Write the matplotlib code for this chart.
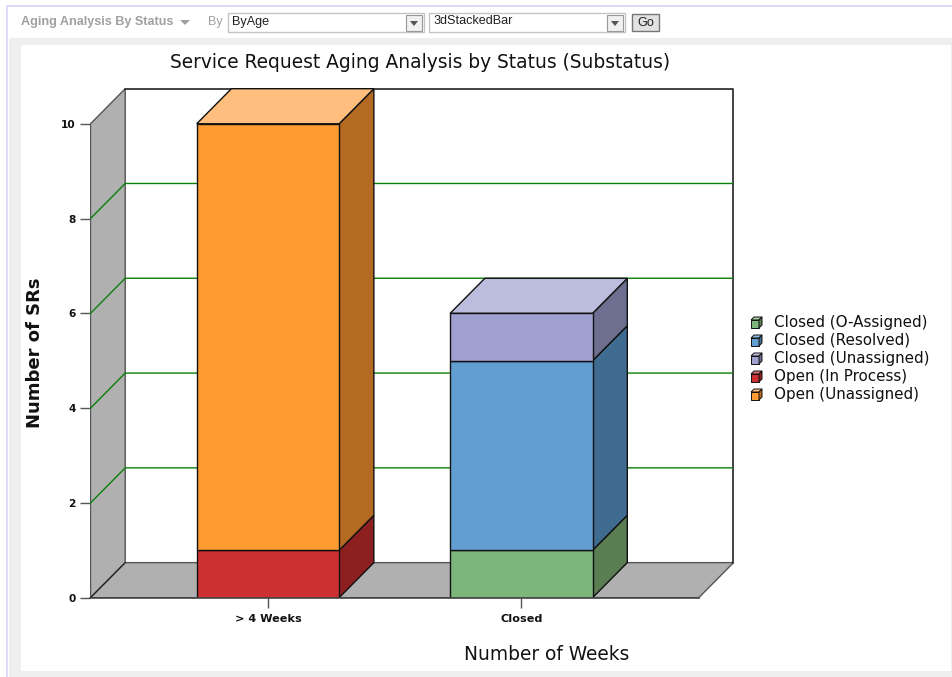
import numpy as np
import matplotlib
matplotlib.use('Agg')
from matplotlib import pyplot as plt
from matplotlib.patches import Polygon, Rectangle

W, H = 953, 677

categories = ['> 4 Weeks', 'Closed']
series = ['Closed (O-Assigned)', 'Closed (Resolved)', 'Closed (Unassigned)', 'Open (In Process)', 'Open (Unassigned)']
values = {
    'Closed (O-Assigned)': [0, 1],
    'Closed (Resolved)': [0, 4],
    'Closed (Unassigned)': [0, 1],
    'Open (In Process)': [1, 0],
    'Open (Unassigned)': [9, 0],
}
front_colors = ['#7db67b', '#629ed1', '#9f9fd0', '#cd3030', '#ff9b30']
top_colors = ['#a5cda3', '#92bce0', '#bcbcdf', '#dd7070', '#ffbe7e']
side_colors = ['#5a7d52', '#3f6b90', '#6e6e90', '#8c2020', '#b56a22']
y_ticks = [0, 2, 4, 6, 8, 10]

# depth of the fake 3d in data units
dx = 0.137
dy = 0.74
bar_half = 0.281
wall = '#b0b0b0'
edge = '#111111'

fig = plt.figure(figsize=(W / 100, H / 100), dpi=100, facecolor='white')

def px_rect(x0, y0, x1, y1, **kw):
    fig.add_artist(Rectangle((x0 / W, 1 - y1 / H), (x1 - x0) / W, (y1 - y0) / H,
                             transform=fig.transFigure, **kw))

# page frame and speckle-ish band
px_rect(6, 5, W, H, facecolor='#dcdcf8', edgecolor='none')
px_rect(8, 7, W, H, facecolor='white', edgecolor='none')
px_rect(9, 38, 953, 677, facecolor='#efefef', edgecolor='none')
px_rect(21, 45, 951, 671, facecolor='white', edgecolor='none')

# toolbar
fig.text(21 / W, 1 - 22.5 / H, 'Aging Analysis By Status', fontsize=9.1, color='#a0a0a0',
         fontweight='bold', family='Liberation Sans', va='center')
fig.text(208 / W, 1 - 22.5 / H, 'By', fontsize=9.1, color='#a0a0a0', family='Liberation Sans', va='center')
fig.add_artist(Polygon([[180 / W, 1 - 20 / H], [190 / W, 1 - 20 / H], [185 / W, 1 - 25 / H]],
                       transform=fig.transFigure, facecolor='#a0a0a0', edgecolor='none'))
for x0, x1, label in [(228, 424, 'ByAge'), (429, 625, '3dStackedBar')]:
    px_rect(x0, 13, x1, 32, facecolor='white', edgecolor='#c4c4c4', lw=1)
    px_rect(x1 - 18, 15, x1 - 2, 31, facecolor='#f0f0f0', edgecolor='#999999', lw=0.8)
    fig.add_artist(Polygon([[(x1 - 14) / W, 1 - 21 / H], [(x1 - 6) / W, 1 - 21 / H], [(x1 - 10) / W, 1 - 26 / H]],
                           transform=fig.transFigure, facecolor='#555555', edgecolor='none'))
    fig.text((x0 + 4) / W, 1 - 21.5 / H, label, fontsize=9.1, color='#222222', family='Liberation Sans', va='center')
px_rect(632, 14, 659, 31, facecolor='#e2e2e2', edgecolor='#777777', lw=1)
fig.text(645.5 / W, 1 - 22.5 / H, 'Go', fontsize=9.1, color='#222222', family='Liberation Sans', va='center', ha='center')

# plot area: 0 at y=598, 10 at y=124 and x from 90.5 to 733.5
ax = fig.add_axes([90.5 / W, 1 - 597.7 / H, (734 - 91) / W, (598 - 89) / H])
ax.set_zorder(5)
ax.set_xlim(-0.7, 1.7 + dx)
ax.set_ylim(0, 10 + dy)
ax.patch.set_alpha(0)
for s in ax.spines.values():
    s.set_visible(False)

x_l, x_r = -0.7, 1.7
top = 10 + dy

# walls and floor
ax.add_patch(Polygon([[x_l, 0], [x_l + dx, dy], [x_l + dx, top], [x_l, 10]], facecolor=wall, edgecolor='#555555', lw=1, zorder=1))
ax.add_patch(Polygon([[x_l, 0], [x_r, 0], [x_r + dx, dy], [x_l + dx, dy]], facecolor=wall, edgecolor='#555555', lw=1, zorder=1))
ax.plot([x_l + dx, x_r + dx, x_r + dx], [top, top, dy], color='#222222', lw=1.2, zorder=2, clip_on=False)
ax.plot([x_l, x_l + dx], [0, dy], color='#222222', lw=0.8, zorder=2)

# gridlines go on back wall and bend down the left wall
for t in y_ticks[1:-1]:
    ax.plot([x_l, x_l + dx, x_r + dx], [t, t + dy, t + dy], color='#0a800a', lw=1, zorder=2)

# bars
for i in range(len(categories)):
    bottom = 0
    x0, x1 = i - bar_half, i + bar_half
    for j, name in enumerate(series):
        v = values[name][i]
        if v == 0:
            continue
        b, t = bottom, bottom + v
        ax.add_patch(Rectangle((x0, b), x1 - x0, v, facecolor=front_colors[j], edgecolor=edge, lw=1, zorder=5))
        ax.add_patch(Polygon([[x1, b], [x1 + dx, b + dy], [x1 + dx, t + dy], [x1, t]],
                             facecolor=side_colors[j], edgecolor=edge, lw=1, zorder=4))
        bottom = t
        last = j
    ax.add_patch(Polygon([[x0, bottom], [x1, bottom], [x1 + dx, bottom + dy], [x0 + dx, bottom + dy]],
                         facecolor=top_colors[last], edgecolor=edge, lw=1, zorder=4, clip_on=False))

ax.plot([x_l, x_r], [0, 0], color='#444444', lw=1.2, zorder=6, clip_on=False)

ax.set_xticks(range(len(categories)))
ax.set_xticklabels(categories, fontsize=8.1, fontweight='bold', color='#111111')
ax.set_yticks(y_ticks)
ax.set_yticklabels([str(t) for t in y_ticks], fontsize=7.6, fontweight='bold', color='#111111')
ax.tick_params(axis='x', length=7.5, width=1, color='#555555', pad=4)
ax.tick_params(axis='y', length=7.5, width=1, color='#555555', pad=3)

fig.text(420.5 / W, 1 - 62 / H, 'Service Request Aging Analysis by Status (Substatus)', fontsize=13.4, color='#111111', ha='center', va='center')
fig.text(547 / W, 1 - 654 / H, 'Number of Weeks', fontsize=13.4, color='#111111', ha='center', va='center')
fig.text(35 / W, 1 - 353 / H, 'Number of SRs', fontsize=13, fontweight='bold', color='#111111', rotation=90, ha='center', va='center')

# legend with small cubes, top row first
leg_y = [322, 340, 358, 376, 394]
for y, name, fc, tc, sc in zip(leg_y, series, front_colors, top_colors, side_colors):
    x = 751
    s, d = 8, 3
    def P(pts, c):
        fig.add_artist(Polygon([[a / W, 1 - b / H] for a, b in pts], transform=fig.transFigure,
                               facecolor=c, edgecolor='#111111', lw=0.7))
    P([(x, y - 2), (x + s, y - 2), (x + s, y + 6), (x, y + 6)], fc)
    P([(x, y - 2), (x + d, y - 5), (x + s + d, y - 5), (x + s, y - 2)], tc)
    P([(x + s, y - 2), (x + s + d, y - 5), (x + s + d, y + 3), (x + s, y + 6)], sc)
    fig.text(774.5 / W, 1 - y / H, name, fontsize=10.9, color='#111111', va='center')

fig.savefig('out.png', dpi=100)
